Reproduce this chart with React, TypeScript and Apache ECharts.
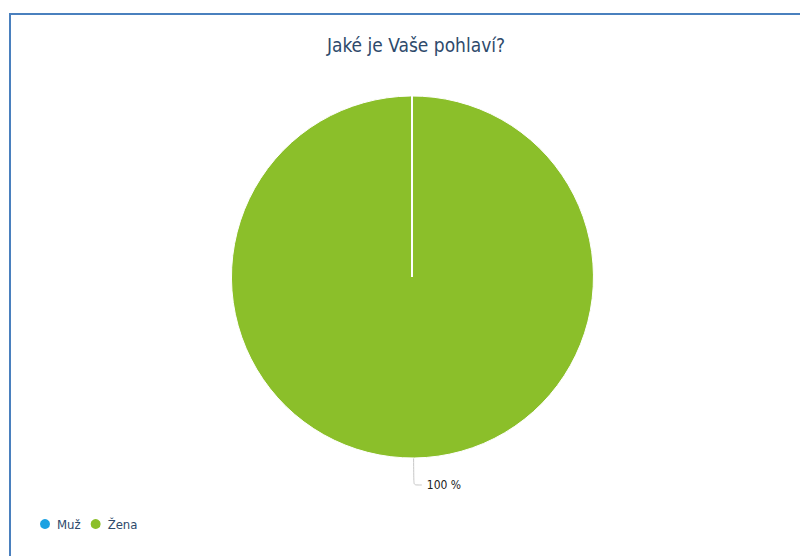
import React, { useEffect, useRef } from "react";
import * as echarts from "echarts";

const categories = ["Muž", "Žena"];
const values = [0, 100];
const colors = ["#1BA1E2", "#8BBF2A"];
const titleText = "Jaké je Vaše pohlaví?";

export default function App() {
  const ref = useRef<HTMLDivElement>(null);
  useEffect(() => {
    const chart = echarts.init(ref.current!, null, { renderer: "svg" });
    chart.setOption({
      animation: false,
      backgroundColor: "#ffffff",
      title: {
        text: titleText,
        left: 411,
        textAlign: "center",
        top: 30,
        textStyle: {
          fontFamily: "DejaVu Sans Condensed",
          fontSize: 19,
          fontWeight: "normal",
          color: "#2E4A6B",
        },
      },
      legend: {
        left: 33,
        top: 512,
        icon: "circle",
        itemWidth: 12,
        itemHeight: 12,
        itemGap: 8,
        textStyle: {
          fontFamily: "DejaVu Sans Condensed",
          fontSize: 13,
          color: "#2E4A6B",
          padding: [0, 0, 0, 1],
        },
        data: categories,
      },
      graphic: [
        { type: "line", shape: { x1: 9, y1: 14, x2: 800, y2: 14 }, style: { stroke: "#4A80BE", lineWidth: 2 } },
        { type: "line", shape: { x1: 10, y1: 14, x2: 10, y2: 556 }, style: { stroke: "#4A80BE", lineWidth: 2 } },
        { type: "line", z: 100, shape: { x1: 412, y1: 95, x2: 412, y2: 277 }, style: { stroke: "#ffffff", lineWidth: 2 } },
      ],
      series: [
        {
          type: "pie",
          center: [412, 277],
          radius: [0, 181],
          startAngle: 90.5,
          clockwise: true,
          data: categories.map((c, i) => ({
            name: c,
            value: values[i],
            itemStyle: { color: colors[i] },
            label: { show: values[i] > 0 },
            labelLine: { show: values[i] > 0 },
          })),
          itemStyle: { borderColor: "#ffffff", borderWidth: 1 },
          label: {
            formatter: (p: any) => `${Math.round(p.percent)} %`,
            fontFamily: "DejaVu Sans Condensed",
            fontSize: 12,
            color: "#222222",
          },
          labelLine: {
            length: 27,
            length2: 8,
            smooth: 0.2,
            lineStyle: { color: "#c8c8c8", width: 1 },
          },
          emphasis: { disabled: true },
        },
      ],
    });
    return () => chart.dispose();
  }, []);
  return <div ref={ref} style={{ position: "fixed", left: 0, top: 0, width: 800, height: 556 }} />;
}
